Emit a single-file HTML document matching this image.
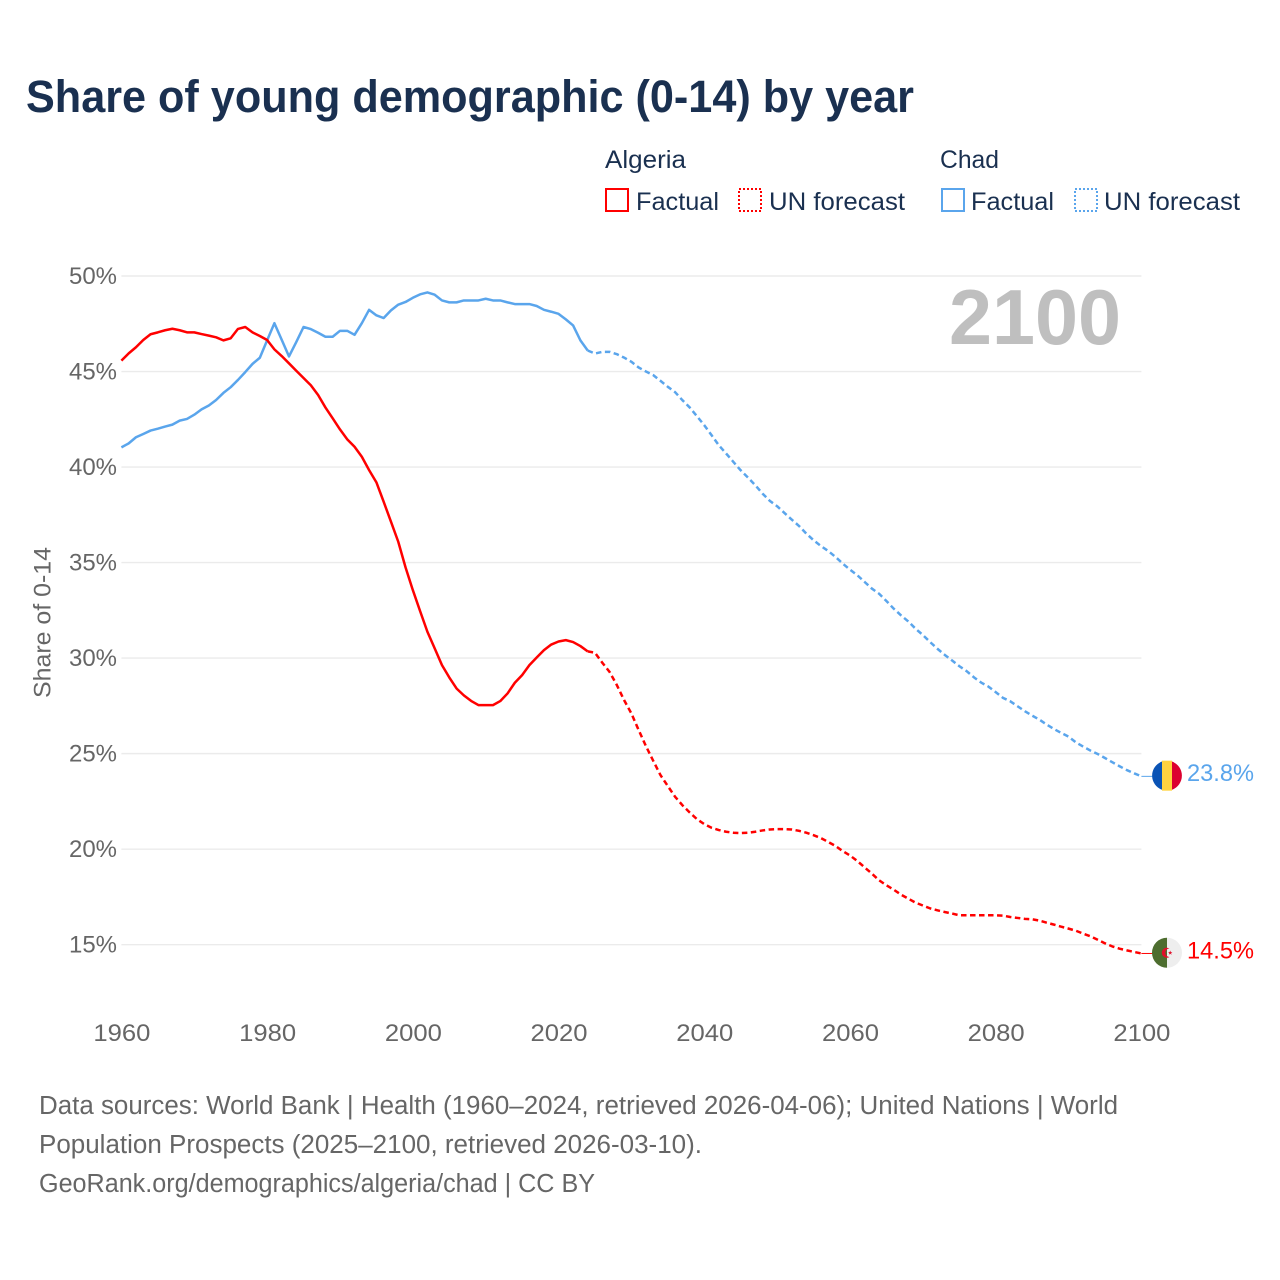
<!DOCTYPE html>
<html lang="en">
<head>
<meta charset="utf-8">
<title>Share of young demographic (0-14) by year</title>
<style>
  html, body { margin: 0; padding: 0; background: #ffffff; }
  svg { display: block; font-family: "Liberation Sans", sans-serif; }
</style>
</head>
<body>
<svg id="chart" xmlns="http://www.w3.org/2000/svg" width="1280" height="1280" viewBox="0 0 1280 1280">
  <rect x="0" y="0" width="1280" height="1280" fill="#ffffff"/>
  <text x="26" y="112" font-size="45" font-weight="700" fill="#1a3050" textLength="888" lengthAdjust="spacingAndGlyphs">Share of young demographic (0-14) by year</text>

  <g font-size="25" fill="#1a3050">
    <text x="605" y="168" textLength="81" lengthAdjust="spacingAndGlyphs">Algeria</text>
    <rect x="606" y="189" width="22" height="22" fill="none" stroke="#ff0000" stroke-width="2"/>
    <text x="636" y="210" textLength="83" lengthAdjust="spacingAndGlyphs">Factual</text>
    <rect x="739" y="189" width="22" height="22" fill="none" stroke="#ff0000" stroke-width="2" stroke-dasharray="2 2"/>
    <text x="769" y="210" textLength="136" lengthAdjust="spacingAndGlyphs">UN forecast</text>

    <text x="940" y="168" textLength="59" lengthAdjust="spacingAndGlyphs">Chad</text>
    <rect x="942" y="189" width="22" height="22" fill="none" stroke="#5aa5ec" stroke-width="2"/>
    <text x="971" y="210" textLength="83" lengthAdjust="spacingAndGlyphs">Factual</text>
    <rect x="1075" y="189" width="22" height="22" fill="none" stroke="#5aa5ec" stroke-width="2" stroke-dasharray="2 2"/>
    <text x="1104" y="210" textLength="136" lengthAdjust="spacingAndGlyphs">UN forecast</text>
  </g>

  <g id="grid"></g>
  <g id="y-ticks"></g>
  <g id="x-ticks"></g>

  <text transform="translate(50.5 622.5) rotate(-90)" text-anchor="middle" font-size="24" fill="#666666" textLength="151" lengthAdjust="spacingAndGlyphs">Share of 0-14</text>
  <text x="949" y="344" font-size="78" font-weight="700" fill="#bfbfbf" textLength="172" lengthAdjust="spacingAndGlyphs">2100</text>

  <g id="series"></g>
  <g id="flags"></g>

  <g font-size="25.5" fill="#666666">
    <text x="39" y="1114" textLength="1079" lengthAdjust="spacingAndGlyphs">Data sources: World Bank | Health (1960–2024, retrieved 2026-04-06); United Nations | World</text>
    <text x="39" y="1153" textLength="663" lengthAdjust="spacingAndGlyphs">Population Prospects (2025–2100, retrieved 2026-03-10).</text>
    <text x="39" y="1192" textLength="556" lengthAdjust="spacingAndGlyphs">GeoRank.org/demographics/algeria/chad | CC BY</text>
  </g>
</svg>

<script>
const xTickYears = [1960, 1980, 2000, 2020, 2040, 2060, 2080, 2100];
const yTickValues = [50, 45, 40, 35, 30, 25, 20, 15];

const factualStartYear = 1960;
const forecastStartYear = 2024;

const algeriaFactual = [
  45.57, 45.95, 46.27, 46.65, 46.95, 47.05, 47.16, 47.24, 47.16, 47.05,
  47.05, 46.96, 46.88, 46.79, 46.63, 46.74, 47.23, 47.33, 47.05, 46.86,
  46.65, 46.16, 45.81, 45.43, 45.04, 44.66, 44.28, 43.77, 43.12, 42.55,
  41.97, 41.45, 41.06, 40.54, 39.84, 39.2, 38.18, 37.14, 36.09, 34.75,
  33.56, 32.46, 31.38, 30.51, 29.63, 28.99, 28.41, 28.05, 27.76, 27.54,
  27.54, 27.54, 27.75, 28.15, 28.71, 29.11, 29.63, 30.03, 30.42, 30.71,
  30.87, 30.94, 30.84, 30.63, 30.35
];
const algeriaForecast = [
  30.35, 30.28, 29.76, 29.28, 28.59, 27.8, 27.1, 26.23, 25.39, 24.62,
  23.87, 23.3, 22.74, 22.3, 21.92, 21.57, 21.31, 21.12, 21.0, 20.91,
  20.86, 20.84, 20.86, 20.91, 20.98, 21.03, 21.05, 21.05, 21.03, 20.96,
  20.86, 20.73, 20.58, 20.38, 20.17, 19.9, 19.67, 19.38, 19.05, 18.72,
  18.37, 18.11, 17.88, 17.62, 17.41, 17.2, 17.05, 16.9, 16.8, 16.71,
  16.63, 16.54, 16.54, 16.54, 16.54, 16.54, 16.54, 16.52, 16.45, 16.4,
  16.35, 16.33, 16.26, 16.15, 16.05, 15.94, 15.84, 15.73, 15.58, 15.44,
  15.26, 15.07, 14.91, 14.79, 14.7, 14.62, 14.54
];
const chadFactual = [
  41.03, 41.24, 41.56, 41.73, 41.91, 42.01, 42.12, 42.22, 42.43, 42.52,
  42.74, 43.02, 43.22, 43.51, 43.88, 44.18, 44.56, 44.97, 45.4, 45.72,
  46.63, 47.53, 46.66, 45.79, 46.54, 47.33, 47.22, 47.03, 46.82, 46.82,
  47.13, 47.13, 46.92, 47.53, 48.23, 47.94, 47.8, 48.2, 48.5, 48.64,
  48.86, 49.04, 49.14, 49.02, 48.72, 48.62, 48.62, 48.72, 48.72, 48.72,
  48.81, 48.72, 48.72, 48.62, 48.53, 48.53, 48.53, 48.43, 48.23, 48.13,
  48.02, 47.73, 47.41, 46.63, 46.1
];
const chadForecast = [
  46.1, 45.94, 46.03, 46.03, 45.91, 45.73, 45.51, 45.21, 45.0, 44.81,
  44.51, 44.2, 43.92, 43.5, 43.12, 42.66, 42.19, 41.67, 41.14, 40.71,
  40.27, 39.83, 39.45, 39.05, 38.61, 38.23, 37.95, 37.6, 37.25, 36.92,
  36.52, 36.17, 35.87, 35.61, 35.3, 34.95, 34.63, 34.34, 33.99, 33.64,
  33.37, 32.99, 32.59, 32.24, 31.92, 31.54, 31.21, 30.84, 30.49, 30.17,
  29.88, 29.58, 29.32, 29.0, 28.72, 28.51, 28.22, 27.92, 27.74, 27.48,
  27.22, 26.99, 26.78, 26.52, 26.29, 26.08, 25.89, 25.59, 25.37, 25.16,
  24.98, 24.77, 24.55, 24.34, 24.14, 23.97, 23.81
];

const SVG_NS = 'http://www.w3.org/2000/svg';
const RED = '#ff0000';
const BLUE = '#5aa5ec';

function xScale(year) { return 121.4 + (year - 1960) * (1020 / 140); }
function yScale(value) { return 276 + (50 - value) * 19.105; }

function make(tag, parent) {
  const el = document.createElementNS(SVG_NS, tag);
  parent.appendChild(el);
  return el;
}

const gridGroup = document.getElementById('grid');
const yTickGroup = document.getElementById('y-ticks');
const xTickGroup = document.getElementById('x-ticks');
const seriesGroup = document.getElementById('series');
const flagGroup = document.getElementById('flags');

yTickValues.forEach(function (value) {
  const line = make('line', gridGroup);
  
  
  line.setAttribute('x1', xScale(1960));
  line.setAttribute('x2', xScale(2100));
  line.setAttribute('y1', yScale(value));
  line.setAttribute('y2', yScale(value));
  line.setAttribute('stroke', '#ebebeb');
  line.setAttribute('stroke-width', '1.4');

  const label = make('text', yTickGroup);
  
  
  label.setAttribute('x', 117);
  label.setAttribute('y', yScale(value) + 8);
  label.setAttribute('text-anchor', 'end');
  label.setAttribute('font-size', '24');
  label.setAttribute('fill', '#666666');
  label.setAttribute('textLength', '48');
  label.setAttribute('lengthAdjust', 'spacingAndGlyphs');
  label.textContent = value + '%';
});

xTickYears.forEach(function (year) {
  const label = make('text', xTickGroup);
  
  
  label.setAttribute('x', xScale(year) + 0.5);
  label.setAttribute('y', 1041);
  label.setAttribute('text-anchor', 'middle');
  label.setAttribute('font-size', '24');
  label.setAttribute('fill', '#666666');
  label.setAttribute('textLength', '57');
  label.setAttribute('lengthAdjust', 'spacingAndGlyphs');
  label.textContent = year;
});

function pointsFor(values, startYear) {
  return values.map(function (value, i) {
    return xScale(startYear + i).toFixed(2) + ',' + yScale(value).toFixed(2);
  }).join(' ');
}

function drawSeries(name, values, startYear, color, dashed) {
  const line = make('polyline', seriesGroup);
  
  
  line.setAttribute('points', pointsFor(values, startYear));
  line.setAttribute('fill', 'none');
  line.setAttribute('stroke', color);
  line.setAttribute('stroke-width', '2.5');
  line.setAttribute('stroke-linejoin', 'round');
  if (dashed) {
    line.setAttribute('stroke-dasharray', '5.5 3.5');
  }
}

drawSeries('chad-factual-line', chadFactual, factualStartYear, BLUE, false);
drawSeries('chad-forecast-line', chadForecast, forecastStartYear, BLUE, true);
drawSeries('algeria-factual-line', algeriaFactual, factualStartYear, RED, false);
drawSeries('algeria-forecast-line', algeriaForecast, forecastStartYear, RED, true);

function drawEnd(name, values, color) {
  const last = values[values.length - 1];
  const ey = yScale(last);
  const cx = 1167;
  const cy = ey - 0.7;

  const connector = make('line', flagGroup);
  
  
  connector.setAttribute('x1', xScale(2100));
  connector.setAttribute('x2', cx - 14);
  connector.setAttribute('y1', ey);
  connector.setAttribute('y2', ey);
  connector.setAttribute('stroke', color);
  connector.setAttribute('stroke-width', '1');

  const flag = make('g', flagGroup);
  
  
  flag.setAttribute('transform', 'translate(' + cx + ' ' + cy.toFixed(2) + ')');

  const label = make('text', flagGroup);
  
  
  label.setAttribute('x', 1187);
  label.setAttribute('y', cy + 5.5);
  label.setAttribute('font-size', '24');
  label.setAttribute('fill', color);
  label.setAttribute('textLength', '67');
  label.setAttribute('lengthAdjust', 'spacingAndGlyphs');
  label.textContent = last.toFixed(1) + '%';
  return flag;
}

function flagShape(tag, parent, attrs) {
  const el = make(tag, parent);
  Object.keys(attrs).forEach(function (k) { el.setAttribute(k, attrs[k]); });
  return el;
}

const chadFlag = drawEnd('chad', chadForecast, BLUE);
flagShape('path', chadFlag, { d: 'M-5,-14.1 A15,15 0 0 0 -5,14.1 Z', fill: '#0a53b5' });
flagShape('rect', chadFlag, { x: -5, y: -15, width: 10, height: 30, fill: '#ffd23f' });
flagShape('path', chadFlag, { d: 'M5,-14.1 A15,15 0 0 1 5,14.1 Z', fill: '#dc0030' });

const algeriaFlag = drawEnd('algeria', algeriaForecast, RED);
flagShape('path', algeriaFlag, { d: 'M0,-15 A15,15 0 0 0 0,15 Z', fill: '#4d6d2f' });
flagShape('path', algeriaFlag, { d: 'M0,-15 A15,15 0 0 1 0,15 Z', fill: '#eeeeee' });
flagShape('path', algeriaFlag, { d: 'M2.5,-4.2 A5,5 0 1 0 2.5,4.2 A4,4 0 1 1 2.5,-4.2 Z', fill: '#e0102a' });
flagShape('polygon', algeriaFlag, { points: '1,-0.6 2.6,-0.6 3.2,-2.2 3.8,-0.6 5.4,-0.6 4.1,0.4 4.6,2 3.2,1 1.8,2 2.3,0.4', fill: '#e0102a' });
</script>
</body>
</html>
